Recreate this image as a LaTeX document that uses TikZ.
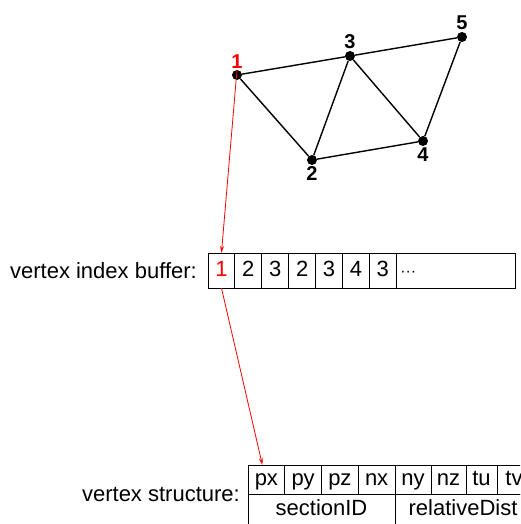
\documentclass[tikz,border=0pt]{standalone}
\usepackage{fontspec}
\setmainfont{Liberation Sans}
\usepackage{xcolor}
\usepackage{tikz}
\usetikzlibrary{arrows.meta,positioning,calc}

\begin{document}
\begin{tikzpicture}[
    x=1pt, y=-1pt,
    node distance=0pt,
    vtx/.style={circle, fill=black, inner sep=0pt, minimum size=10pt},
    lbl/.style={font=\fontsize{20}{22}\selectfont\bfseries, inner sep=1.5pt},
    edge/.style={line width=1.4pt, draw=black},
    cell/.style={rectangle, draw, line width=0.9pt, inner sep=0pt, outer sep=0pt, minimum height=35pt, minimum width=26.9pt, text height=15pt, text depth=4pt, font=\fontsize{22}{26}\selectfont},
    fcell/.style={rectangle, draw, line width=0.9pt, inner sep=0pt, outer sep=0pt, minimum height=29pt, minimum width=#1, text height=15pt, text depth=4pt, font=\fontsize{22}{26}\selectfont},
    txt/.style={inner sep=0pt, font=\fontsize{22}{26}\selectfont},
    redarrow/.style={-{Stealth[length=7pt, width=4pt]}, line width=0.8pt, draw=red}
]
    \useasboundingbox (0,0) rectangle (520,524);
    \clip (0,0) rectangle (520,524);

    % mesh
    \node [vtx, label={[lbl, red, name=l1]above:1}] (v1) at (237,75) {};
    \node [vtx, label={[lbl]below:2}] (v2) at (312,160) {};
    \node [vtx, label={[lbl]above:3}] (v3) at (350,56) {};
    \node [vtx, label={[lbl]below:4}] (v4) at (423,141) {};
    \node [vtx, label={[lbl]above:5}] (v5) at (462,37) {};

    \draw [edge] (v1) -- (v3);
    \draw [edge] (v3) -- (v5);
    \draw [edge] (v1) -- (v2);
    \draw [edge] (v2) -- (v3);
    \draw [edge] (v3) -- (v4);
    \draw [edge] (v2) -- (v4);
    \draw [edge] (v4) -- (v5);

    % index buffer
    \node [cell, anchor=north west] (b1) at (208,253) {\textcolor{red}{1}};
    \node [cell, right=of b1] (b2) {2};
    \node [cell, right=of b2] (b3) {3};
    \node [cell, right=of b3] (b4) {2};
    \node [cell, right=of b4] (b5) {3};
    \node [cell, right=of b5] (b6) {4};
    \node [cell, right=of b6] (b7) {3};
    \node [cell, right=of b7, minimum width=119pt, align=left, text width=111pt] (b8) {\fontsize{16}{20}\selectfont ···};
    \node [txt, left=11pt of b1] (ibuf) {vertex index buffer:};

    % vertex structure
    \node [fcell=36.75pt, anchor=north west] (px) at (248,465) {px};
    \node [fcell=36.75pt, right=of px] (py) {py};
    \node [fcell=36.75pt, right=of py] (pz) {pz};
    \node [fcell=36.75pt, right=of pz] (nx) {nx};
    \node [fcell=36pt, right=of nx] (ny) {ny};
    \node [fcell=35pt, right=of ny] (nz) {nz};
    \node [fcell=31pt, right=of nz] (tu) {tu};
    \node [fcell=34pt, right=of tu] (tv) {tv};
    \node [fcell=147pt, minimum height=32pt, anchor=north west] (sid) at (px.south west) {sectionID};
    \node [fcell=136pt, minimum height=32pt, anchor=north west] (rdist) at (ny.south west) {relativeDist};
    \node [txt, anchor=east] (vstruct) at ($(px.south west)+(-8,0)$) {vertex structure:};

    \draw [redarrow] (l1.south) -- (b1.north);
    \draw [redarrow] (b1.south) -- ([xshift=-4pt]px.north);
\end{tikzpicture}
\end{document}
